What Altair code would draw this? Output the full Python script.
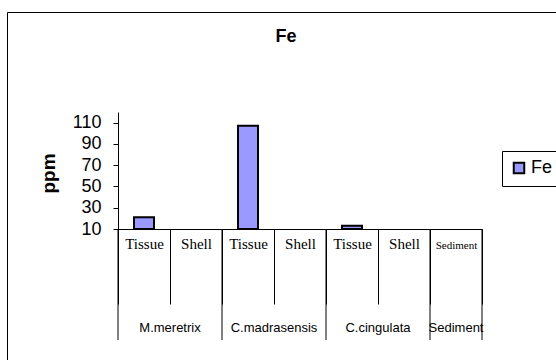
import altair as alt
import pandas as pd

# Category axis: sample group and the part measured, in display order
groups = ["M.meretrix", "M.meretrix", "C.madrasensis", "C.madrasensis",
          "C.cingulata", "C.cingulata", "Sediment"]
parts = ["Tissue", "Shell", "Tissue", "Shell", "Tissue", "Shell", "Sediment"]
# Fe concentration in ppm (None: nothing rises above the axis floor)
fe_ppm = [21, None, 107, None, 13, None, None]

y_ticks = [10, 30, 50, 70, 90, 110]
y_domain = [10, 120]
series_name = "Fe"
chart_title = "Fe"

slots = [f"{g}|{p}" for g, p in zip(groups, parts)]
group_names = list(dict.fromkeys(groups))

PLOT_W, PLOT_H = 364, 117
SANS = "Liberation Sans"
SERIF = "Liberation Serif"

df = pd.DataFrame({"slot": slots, "group": groups, "part": parts,
                   "Fe": fe_ppm, "series": series_name})
bars_df = df[df["Fe"].notna()]

x_scale = alt.Scale(domain=slots, paddingInner=0, paddingOuter=0)

# outer chart-area border
frame = alt.Chart(pd.DataFrame({"k": [0]})).mark_rect(
    filled=False, stroke="black", strokeWidth=1
).encode(
    x=alt.value(-110.5), x2=alt.value(447),
    y=alt.value(-99.5), y2=alt.value(262),
)

# chart heading, centred over the chart area
heading = alt.Chart(pd.DataFrame({"t": [chart_title]})).mark_text(
    font=SANS, fontSize=18, fontWeight="bold", color="black",
    baseline="middle", align="center"
).encode(x=alt.value(168), y=alt.value(-75), text="t:N")

bars = alt.Chart(bars_df).mark_bar(
    size=20, stroke="black", strokeWidth=2
).encode(
    x=alt.X(
        "slot:N", scale=x_scale, sort=slots,
        axis=alt.Axis(
            title=None, labelAngle=0, grid=False,
            labelExpr="split(datum.value, '|')[1]",
            labelFont=SERIF,
            labelFontSize=alt.ExprRef(expr="datum.value == 'Sediment|Sediment' ? 11 : 15"),
            labelColor="black", labelBaseline="alphabetic",
            labelOverlap=False,
            tickBand="extent", tickSize=75, tickColor="black",
            domainColor="black", labelPadding=-56, zindex=1,
        ),
    ),
    y=alt.Y(
        "Fe:Q",
        scale=alt.Scale(domain=y_domain, nice=False, zero=False),
        axis=alt.Axis(
            values=y_ticks, grid=False, tickSize=5, tickColor="black",
            domainColor="black", labelFontSize=18, labelColor="black",
            labelFont=SANS, labelPadding=12, labelOverlap=False,
            labelFlush=False, zindex=1,
            title="ppm", titleFont=SANS, titleFontSize=19,
            titleFontWeight="bold", titleColor="black",
            titleAngle=270, titleX=-70, titleY=61,
            titleAlign="center", titleBaseline="middle",
        ),
    ),
    y2=alt.datum(y_domain[0]),
    color=alt.Color(
        "series:N",
        scale=alt.Scale(domain=[series_name], range=["#9999FF"]),
        legend=alt.Legend(
            orient="none", legendX=384, legendY=39, title=None,
            strokeColor="black", fillColor="white", padding=8,
            symbolType="square", symbolSize=110,
            symbolStrokeColor="black", symbolStrokeWidth=2,
            labelFont=SANS, labelFontSize=18, labelColor="black",
            labelOffset=3,
        ),
    ),
)

# long separators between sample groups
group_starts = pd.DataFrame({"slot": [slots[groups.index(g)] for g in group_names]})
group_rules = alt.Chart(group_starts).mark_rule(color="black").encode(
    x=alt.X("slot:N", scale=x_scale, bandPosition=0),
    y=alt.value(PLOT_H), y2=alt.value(228),
)
end_rule = alt.Chart(pd.DataFrame({"slot": [slots[-1]]})).mark_rule(color="black").encode(
    x=alt.X("slot:N", scale=x_scale, bandPosition=1),
    y=alt.value(PLOT_H), y2=alt.value(228),
)

# group names centred under their parts
pair_df = pd.DataFrame({
    "slot": [slots[groups.index(g)] for g in group_names if groups.count(g) == 2],
    "group": [g for g in group_names if groups.count(g) == 2],
})
single_df = pd.DataFrame({
    "slot": [slots[groups.index(g)] for g in group_names if groups.count(g) == 1],
    "group": [g for g in group_names if groups.count(g) == 1],
})
pair_labels = alt.Chart(pair_df).mark_text(
    font=SANS, fontSize=13, color="black", baseline="middle"
).encode(
    x=alt.X("slot:N", scale=x_scale, bandPosition=1),
    y=alt.value(215.5), text="group:N",
)
single_labels = alt.Chart(single_df).mark_text(
    font=SANS, fontSize=13, color="black", baseline="middle"
).encode(
    x=alt.X("slot:N", scale=x_scale, bandPosition=0.5),
    y=alt.value(215.5), text="group:N",
)

chart = alt.layer(
    frame, heading, bars, group_rules, end_rule, pair_labels, single_labels
).properties(
    width=PLOT_W, height=PLOT_H,
    padding={"left": 118, "top": 112, "right": 74, "bottom": 131},
    autosize=alt.AutoSizeParams(type="none"),
    background="white",
).configure(
    font=SANS,
    view=alt.ViewConfig(stroke="white", strokeWidth=2),
    axis=alt.AxisConfig(grid=False),
)

chart.save("out.html", embed_options={"renderer": "svg", "actions": False})
